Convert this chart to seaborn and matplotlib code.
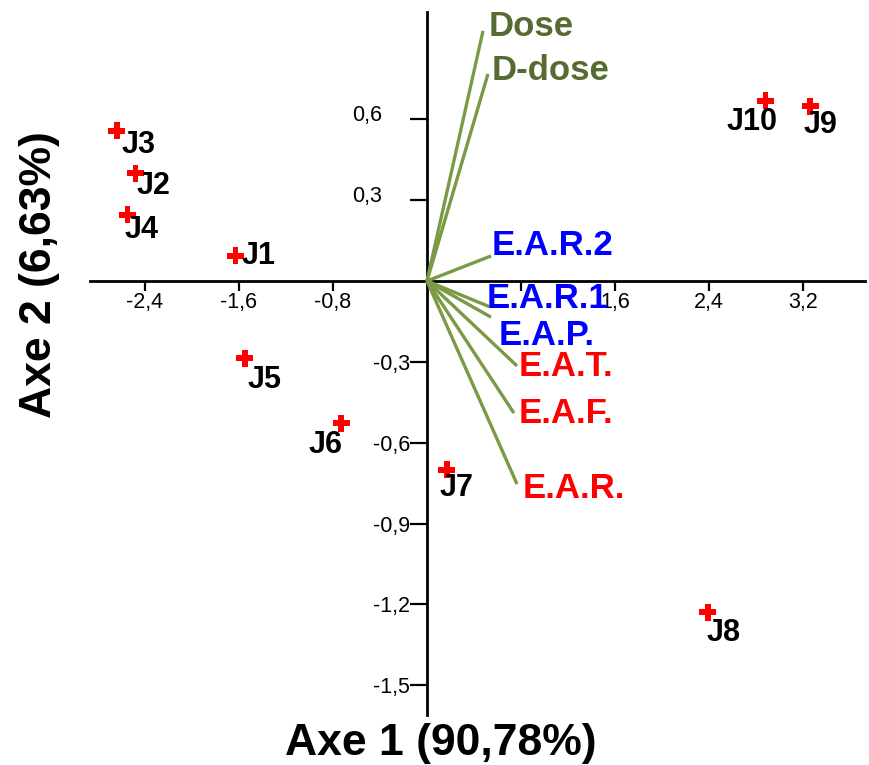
import matplotlib
matplotlib.use("Agg")
import matplotlib.pyplot as plt
import matplotlib.transforms as mtransforms
import seaborn as sns
import pandas as pd

# ---- data ----
obs_names = ["J1", "J2", "J3", "J4", "J5", "J6", "J7", "J8", "J9", "J10"]
obs_x = [-1.63, -2.48, -2.64, -2.55, -1.55, -0.73, 0.17, 2.39, 3.26, 2.88]
obs_y = [0.093, 0.400, 0.557, 0.245, -0.286, -0.527, -0.700, -1.228, 0.649, 0.668]

var_names = ["Dose", "D-dose", "E.A.R.2", "E.A.R.1", "E.A.P.", "E.A.T.", "E.A.F.", "E.A.R."]
var_x = [0.477, 0.519, 0.545, 0.536, 0.545, 0.766, 0.740, 0.766]
var_y = [0.928, 0.768, 0.093, -0.096, -0.134, -0.315, -0.490, -0.753]

xticks = [-2.4, -1.6, -0.8, 0.8, 1.6, 2.4, 3.2]
xtick_labels = ["-2,4", "-1,6", "-0,8", "", "1,6", "2,4", "3,2"]
yticks = [0.6, 0.3, -0.3, -0.6, -0.9, -1.2, -1.5]
ytick_labels = ["0,6", "0,3", "-0,3", "-0,6", "-0,9", "-1,2", "-1,5"]

xlabel = "Axe 1 (90,78%)"
ylabel = "Axe 2 (6,63%)"

# ---- styles ----
var_colors = {"Dose": "#556b2f", "D-dose": "#556b2f", "E.A.R.2": "#0000ff",
              "E.A.R.1": "#0000ff", "E.A.P.": "#0000ff", "E.A.T.": "#ff0000",
              "E.A.F.": "#ff0000", "E.A.R.": "#ff0000"}
# label offsets in pixels (dx right, dy down) relative to arrow end
var_off = {"Dose": (6, -4), "D-dose": (4, -3), "E.A.R.2": (1, -10),
           "E.A.R.1": (-3, -8), "E.A.P.": (8, 18), "E.A.T.": (2, 1),
           "E.A.F.": (5, 0), "E.A.R.": (6, 5)}
# (dx, dy, ha)
obs_off = {"J1": (6, 0, "left"), "J2": (1, 13, "left"), "J3": (5, 14, "left"),
           "J4": (-3, 15, "left"), "J5": (3, 22, "left"), "J6": (1, 22, "right"),
           "J7": (-7, 18, "left"), "J8": (-1, 21, "left"), "J9": (-6, 19, "left"),
           "J10": (12, 21, "right")}

sns.set_theme(style="white")
plt.rcParams["font.family"] = ["Liberation Sans", "DejaVu Sans"]
plt.rcParams["text.color"] = "black"
plt.rcParams["xtick.color"] = "black"
plt.rcParams["ytick.color"] = "black"

fig = plt.figure(figsize=(8.7, 7.65), dpi=100)
ax = fig.add_axes([90 / 870, 1 - 715 / 765, (865 - 90) / 870, (715 - 12) / 765])
ax.set_xlim(-2.868, 3.728)
ax.set_ylim(-1.610, 0.998)

# spines through origin
for s in ["top", "right"]:
    ax.spines[s].set_visible(False)
for s in ["left", "bottom"]:
    ax.spines[s].set_position(("data", 0))
    ax.spines[s].set_linewidth(2)
    ax.spines[s].set_color("black")
    ax.spines[s].set_zorder(1)

ax.set_xticks(xticks)
ax.set_xticklabels(xtick_labels)
ax.set_yticks(yticks)
ax.set_yticklabels(ytick_labels)
ax.tick_params(axis="x", direction="out", length=7, width=1.6, colors="black",
               labelsize=15.5, pad=1, bottom=True)
ax.tick_params(axis="y", direction="out", length=12, width=1.6, colors="black",
               labelsize=15.5, pad=0, left=True)

# positive y tick labels sit further left and slightly higher
for val, lab in zip(yticks, ax.get_yticklabels()):
    if val > 0:
        lab.set_transform(lab.get_transform() +
                          mtransforms.ScaledTranslation(-28 / 100, 6 / 100,
                                                        fig.dpi_scale_trans))

# variable vectors
for name, vx, vy in zip(var_names, var_x, var_y):
    ax.plot([0, vx], [0, vy], color="#7a9a45", lw=2.4, zorder=2,
            solid_capstyle="butt")
    dx, dy = var_off[name]
    ax.annotate(name, xy=(vx, vy), xytext=(dx, -dy), textcoords="offset pixels",
                ha="left", va="center", fontsize=25, fontweight="bold",
                color=var_colors[name], zorder=5)

# observations
df = pd.DataFrame({"x": obs_x, "y": obs_y, "name": obs_names})
sns.scatterplot(data=df, x="x", y="y", marker="P", s=150, color="#ff0000",
                edgecolor="none", ax=ax, zorder=4, legend=False)
for name, x, y in zip(obs_names, obs_x, obs_y):
    dx, dy, ha = obs_off[name]
    ax.annotate(name, xy=(x, y), xytext=(dx, -dy), textcoords="offset pixels",
                ha=ha, va="center", fontsize=22, fontweight="bold",
                color="black", zorder=5)

ax.set_xlabel("")
ax.set_ylabel("")
fig.text(441 / 870, 1 - 743 / 765, xlabel, ha="center", va="center",
         fontsize=32, fontweight="bold", color="black")
fig.text(40 / 870, 1 - 275 / 765, ylabel, ha="center", va="center",
         fontsize=32, fontweight="bold", rotation=90, color="black")

fig.savefig("out.png", dpi=100)
